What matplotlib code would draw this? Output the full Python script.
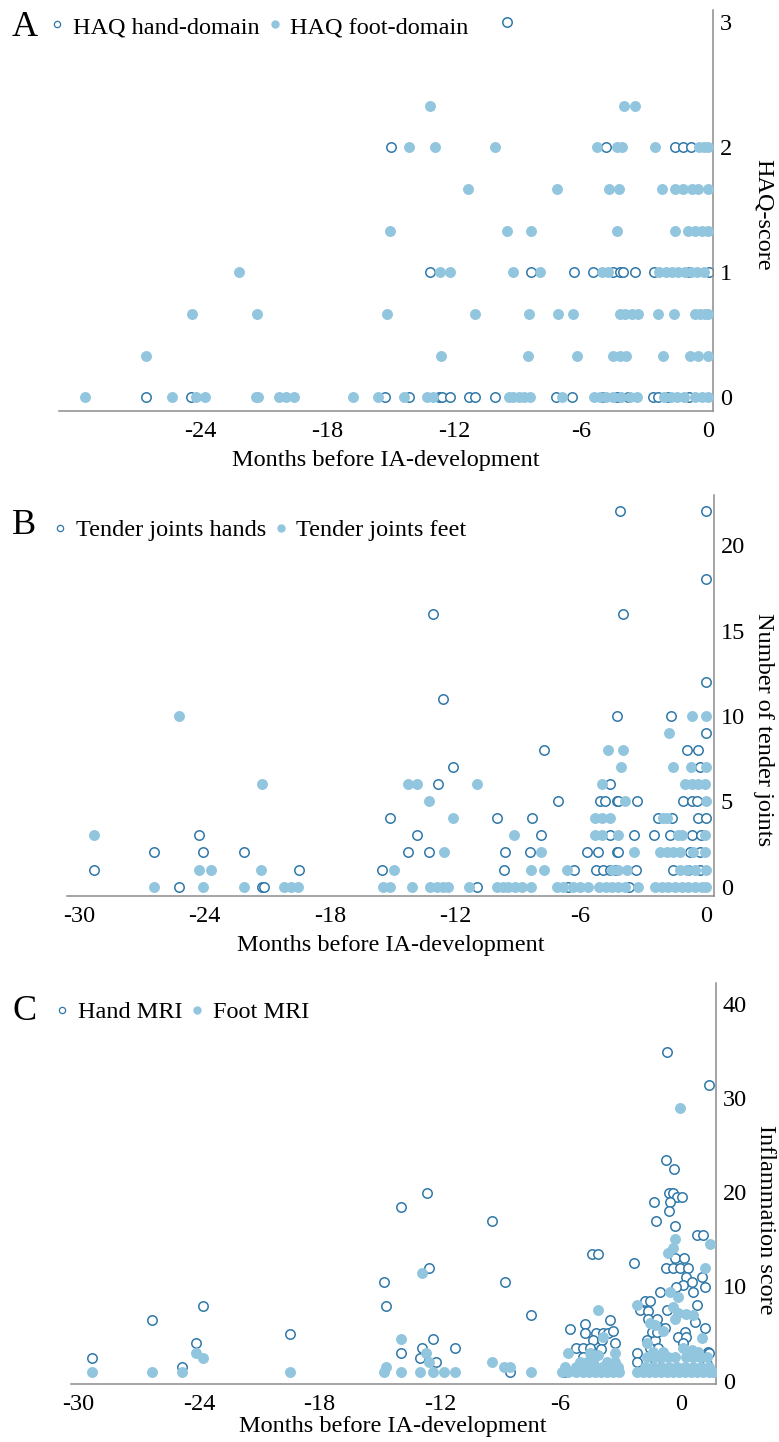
import numpy as np
import matplotlib
matplotlib.use('Agg')
import matplotlib.pyplot as plt
from matplotlib.lines import Line2D

plt.rcParams['font.family'] = ['Liberation Serif', 'DejaVu Serif']
plt.rcParams['axes.unicode_minus'] = False

open_edge = '#2f78a8'
dot_fill = '#92c5de'
spine_col = '#8c8c8c'

# ---- A: HAQ scores (rows of months per HAQ level) ----
haq_levels = [0, 1/3, 2/3, 1, 4/3, 5/3, 2, 7/3, 3]
haq_hand_months = [
    [-26.6, -24.45, -15.3, -14.16, -12.74, -12.58, -12.19, -11.32, -11.01, -10.06,
     -7.18, -6.44, -5.0, -4.3, -3.8, -2.58, -2.35, -1.9, -0.88],
    [],
    [],
    [-13.13, -8.38, -6.33, -5.42, -4.47, -4.16, -4.0, -3.45, -2.55, -0.9, 0.05],
    [],
    [],
    [-15.0, -4.82, -1.56, -1.2, -0.82],
    [],
    [-9.5],
]
haq_foot_months = [
    [-29.45, -25.35, -24.2, -23.8, -21.4, -21.3, -20.3, -19.95, -19.6, -16.8, -15.6,
     -14.39, -13.29, -13.0, -9.43, -9.2, -8.96, -8.72, -8.41, -6.9, -5.4, -5.1, -4.8,
     -4.5, -4.1, -3.7, -3.35, -2.1, -1.75, -1.45, -1.15, -0.6, -0.3, 0.0],
    [-26.6, -12.61, -8.49, -6.2, -4.47, -4.16, -3.89, -2.14, -0.85, -0.46, 0.0],
    [-24.4, -21.35, -15.18, -11.0, -8.46, -7.07, -6.36, -4.16, -3.92, -3.6, -3.29,
     -2.35, -1.61, -0.61, -0.38, -0.14, 0.0],
    [-22.2, -12.66, -12.19, -9.2, -7.94, -5.02, -4.71, -2.3, -2.0, -1.7, -1.4, -1.1,
     -0.8, -0.5, -0.2],
    [-15.02, -9.51, -8.38, -4.28, -1.57, -0.93, -0.61, -0.3, 0.0],
    [-11.35, -7.12, -4.69, -4.22, -2.19, -1.56, -1.17, -0.77, -0.46, 0.0],
    [-14.13, -12.9, -10.06, -5.26, -4.31, -4.08, -2.49, -0.4, -0.2, 0.0],
    [-13.13, -3.95, -3.43],
    [],
]

# ---- B: tender joints ----
tender_counts = [0, 1, 2, 3, 4, 5, 6, 7, 8, 9, 10, 11, 12, 16, 18, 22]
tender_hand_months = [
    [-25.22, -21.22, -21.15, -10.94, -6.62, -3.67],
    [-29.3, -19.49, -15.5, -9.67, -6.3, -5.26, -4.94, -4.59, -4.3, -3.37, -1.6, -0.85, -0.29],
    [-26.43, -24.05, -22.1, -14.24, -13.25, -9.62, -8.42, -5.68, -5.15, -4.27, -4.19, -0.77, -0.29],
    [-24.24, -13.84, -7.91, -4.59, -3.44, -2.49, -1.72, -0.69, -0.26],
    [-15.12, -10.02, -8.34, -2.28, -1.64, -0.37, 0.0],
    [-7.1, -5.07, -4.83, -4.27, -4.19, -3.29, -1.12, -0.69, -0.45],
    [-12.81, -4.59],
    [-12.09, -0.29],
    [-7.74, -0.93, -0.4],
    [0.0],
    [-4.26, -1.66],
    [-12.6],
    [0.0],
    [-13.08, -3.96],
    [0.0],
    [-4.1, 0.0],
]
tender_foot_months = [
    [-26.43, -24.05, -22.1, -20.2, -19.87, -19.5, -15.47, -15.1, -14.08, -13.2, -12.89,
     -12.57, -12.33, -11.32, -10.02, -9.73, -9.46, -9.14, -8.82, -8.39, -7.14, -6.83,
     -6.35, -6.03, -5.63, -5.1, -4.8, -4.5, -4.2, -3.9, -3.24, -2.44, -2.12, -1.8,
     -1.48, -1.16, -0.84, -0.52, -0.2, 0.0],
    [-24.24, -23.67, -21.27, -14.95, -8.39, -7.75, -6.67, -4.51, -4.19, -3.8, -1.24,
     -0.93, -0.53, 0.0],
    [-12.54, -7.91, -3.44, -2.2, -1.88, -1.56, -1.24, -0.61, -0.05],
    [-29.3, -9.17, -5.31, -4.99, -4.19, -1.32, -1.16, -0.05],
    [-12.09, -5.31, -4.99, -4.59, -2.04, -1.85],
    [-13.24, -3.88, 0.0],
    [-21.22, -14.27, -13.84, -10.97, -5.0, -1.0, -0.69, -0.37, -0.05],
    [-4.08, -1.6, -0.73, 0.0],
    [-4.67, -3.96],
    [-1.79],
    [-25.2, -0.65, 0.0],
    [], [], [], [], [],
]

# ---- C: MRI inflammation ----
mri_hand_months = [
    -29.34, -26.35, -24.87, -24.16, -23.79, -19.47, -14.81, -14.71, -13.93, -13.93,
    -12.65, -12.55, -12.35, -12.88, -12.98, -12.2, -11.27, -9.39, -8.78, -8.53, -7.45,
    -0.71, 1.41, -0.75, -0.35, -0.58, -0.41, -0.21, 0.08, -1.35, -0.55, -0.61, -1.25,
    -0.28, 0.78, 1.11, -4.45, -4.12, -2.34, -0.3, 0.15, -0.75, -0.38, -0.05, 0.36,
    0.28, 1.03, 0.12, 0.53, 1.2, -0.25, -1.05, 0.61, -1.8, -1.55, -2.04, 0.78, -0.71,
    -1.63, -1.63, -1.21, 0.7, -1.05, -0.8, 1.2, -5.54, -4.79, -3.54, -4.79, -4.24,
    -3.88, -3.63, -3.38, -3.29, -4.39, -3.92, -5.2, -4.87, -3.96, -4.54, -4.87, -5.84,
    -2.21, -1.71, -1.3, -1.46, -1.21, 0.2, -0.13, 0.28, -1.55, -1.13, 0.12, 1.36,
    -1.3, 1.41, 1.28, -2.21,
]
mri_hand_score = [
    2.44, 6.47, 1.48, 3.96, 7.95, 4.95, 10.43, 7.95, 18.45, 2.97,
    19.94, 11.95, 4.46, 3.47, 2.44, 1.98, 3.47, 16.94, 10.43, 0.95, 6.97,
    34.9, 31.4, 23.4, 22.45, 19.94, 19.94, 19.45, 19.45, 18.95, 18.95, 17.96, 16.97,
    16.44, 15.45, 15.45, 13.4, 13.4, 12.45, 12.98, 12.98, 11.98, 11.98, 11.98, 11.98,
    11.03, 11.03, 10.15, 10.43, 9.97, 9.97, 9.44, 9.44, 8.45, 8.45, 7.5, 8.03, 7.5,
    7.4, 6.6, 6.6, 6.26, 5.55, 5.55, 5.55, 5.48, 5.98, 6.44, 5.02, 5.02,
    5.02, 5.02, 5.3, 3.96, 4.3, 4.3, 3.43, 3.43, 3.4, 3.43, 2.55, 0.95,
    2.9, 4.3, 4.3, 5.2, 5.2, 5.2, 4.6, 4.6, 3.43, 3.43, 3.96, 3.08,
    2.2, 2.9, 1.8, 2.0,
]
mri_foot_months = [
    -29.34, -26.35, -24.87, -24.16, -23.79, -19.47, -14.8, -14.7, -13.93, -13.93,
    -12.88, -12.68, -12.55, -12.98, -12.35, -11.82, -11.27, -9.39, -8.81, -8.53, -7.45,
    -0.05, -0.3, 1.45, -0.38, -0.63, 1.2, -0.55, -0.13, -2.21, -0.38, -0.13, 0.28,
    0.61, -0.3, -1.55, -1.3, -4.12, -3.88, -5.62, -3.29, -4.54, -4.15,
    -5.04, -4.7, -4.37, -3.7, -3.29,
    -5.79, -5.2, -4.95, -4.62, -4.29, -3.95, -3.7, -3.45, -3.12,
    -5.9, -5.6, -5.2, -4.9, -4.6, -4.3, -4.0, -3.7, -3.4, -3.1, -2.21,
    -1.71, -0.88, 1.03, -1.38, -0.88, 0.12, 0.53, 0.86,
    -1.71, -1.3, -0.96, -0.63, -0.3, 0.28, 0.61, 0.95, 1.28,
    -1.8, -1.4, -1.0, -0.6, -0.2, 0.2, 0.6, 1.0, 1.4,
    -1.9, -1.6, -1.3, -1.0, -0.7, -0.4, -0.1, 0.2, 0.5, 0.8, 1.1, 1.4, 1.6,
]
mri_foot_score = [
    0.95, 0.95, 0.95, 2.97, 2.44, 0.95, 0.95, 1.48, 4.46, 0.95,
    11.45, 2.97, 1.98, 0.95, 0.95, 0.95, 0.95, 1.98, 1.48, 1.48, 0.95,
    28.9, 15.0, 14.46, 14.1, 13.5, 11.98, 9.44, 8.9, 8.03, 7.8, 7.15, 7.04,
    7.0, 6.6, 6.08, 5.9, 7.5, 4.67, 2.97, 2.97, 2.97, 2.72,
    2.0, 2.0, 2.0, 2.0, 2.0,
    1.48, 1.48, 1.48, 1.48, 1.48, 1.48, 1.48, 1.48, 1.48,
    0.95, 0.95, 0.95, 0.95, 0.95, 0.95, 0.95, 0.95, 0.95, 0.95, 0.95,
    3.96, 5.3, 4.5, 3.08, 3.08, 3.43, 3.25, 3.08,
    2.55, 2.55, 2.55, 2.55, 2.55, 2.55, 2.55, 2.55, 2.55,
    1.5, 1.5, 1.5, 1.5, 1.5, 1.5, 1.5, 1.5, 1.5,
    0.95, 0.95, 0.95, 0.95, 0.95, 0.95, 0.95, 0.95, 0.95, 0.95, 0.95, 0.95, 0.95,
]


def flatten(levels, rows):
    xs, ys = [], []
    for lv, row in zip(levels, rows):
        xs += row
        ys += [lv] * len(row)
    return xs, ys


W, H = 779, 1442
fig = plt.figure(figsize=(W / 100, H / 100), dpi=100)


def make_axes(left, right, top, bottom):
    return fig.add_axes([left / W, 1 - bottom / H, (right - left) / W, (bottom - top) / H])


def style(ax, xlim, ylim, xticks, yticks, ylabel, ylab_y, xpad=6):
    ax.set_xlim(*xlim)
    ax.set_ylim(*ylim)
    for s in ['top', 'left']:
        ax.spines[s].set_visible(False)
    for s in ['bottom', 'right']:
        ax.spines[s].set_color(spine_col)
        ax.spines[s].set_linewidth(1.1)
    ax.yaxis.tick_right()
    ax.set_xticks(xticks)
    ax.set_yticks(yticks)
    ax.tick_params(axis='both', length=0, labelsize=17.5)
    ax.tick_params(axis='x', pad=7)
    ax.tick_params(axis='y', pad=5)
    ax.set_xlabel('Months before IA-development', fontsize=17.5, labelpad=xpad)
    ax.yaxis.set_label_position('right')
    ax.set_ylabel(ylabel, fontsize=17.5, rotation=270, va='center', ha='center')
    ax.yaxis.set_label_coords(1.077, ylab_y)


def draw(ax, hx, hy, fx, fy):
    ax.scatter(hx, hy, s=46, facecolors='white', edgecolors=open_edge, linewidths=1.1, zorder=2)
    ax.scatter(fx, fy, s=62, color=dot_fill, linewidths=0, zorder=3)


def legend(ax, labels, x, y):
    handles = [
        Line2D([], [], ls='none', marker='o', ms=4.5, mfc='white', mec=open_edge, mew=0.9),
        Line2D([], [], ls='none', marker='o', ms=5, mfc=dot_fill, mec=dot_fill),
    ]
    ax.legend(handles, labels, loc='center left', bbox_to_anchor=(x / W, 1 - y / H),
              bbox_transform=fig.transFigure, ncol=2, frameon=False, fontsize=17.5,
              handlelength=0.6, handletextpad=0.33, columnspacing=0.33,
              borderpad=0, borderaxespad=0)


# A
axA = make_axes(59, 713, 10, 411)
hx, hy = flatten(haq_levels, haq_hand_months)
fx, fy = flatten(haq_levels, haq_foot_months)
draw(axA, hx, hy, fx, fy)
style(axA, (-30.7, 0.24), (-0.11, 3.1), [-24, -18, -12, -6, 0], [0, 1, 2, 3], 'HAQ-score', 0.49)
legend(axA, ['HAQ hand-domain', 'HAQ foot-domain'], 50, 27)
fig.text(12 / W, 1 - 27 / H, 'A', fontsize=26, va='center', ha='left')

# B
axB = make_axes(67, 714, 495, 896)
hx, hy = flatten(tender_counts, tender_hand_months)
fx, fy = flatten(tender_counts, tender_foot_months)
draw(axB, hx, hy, fx, fy)
style(axB, (-30.57, 0.38), (-0.55, 22.95), [-30, -24, -18, -12, -6, 0], [0, 5, 10, 15, 20],
      'Number of tender joints', 0.414)
legend(axB, ['Tender joints hands', 'Tender joints feet'], 53, 530)
fig.text(12 / W, 1 - 525 / H, 'B', fontsize=26, va='center', ha='left')

# C
axC = make_axes(70.6, 716, 983, 1384)
draw(axC, mri_hand_months, mri_hand_score, mri_foot_months, mri_foot_score)
style(axC, (-30.4, 1.75), (-0.35, 42.2), [-30, -24, -18, -12, -6, 0], [0, 10, 20, 30, 40],
      'Inflammation score', 0.41, xpad=1)
legend(axC, ['Hand MRI', 'Foot MRI'], 55, 1012)
fig.text(12 / W, 1 - 1011 / H, 'C', fontsize=26, va='center', ha='left')

fig.savefig('out.png', dpi=100)
